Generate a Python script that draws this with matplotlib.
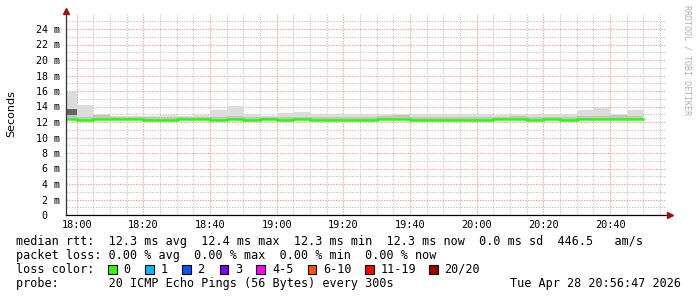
import matplotlib
matplotlib.use("Agg")
import matplotlib.pyplot as plt
from matplotlib.patches import Rectangle
import numpy as np

# ---------------- data ----------------
step_times = ["17:55", "18:00", "18:05", "18:10", "18:15", "18:20", "18:25", "18:30",
              "18:35", "18:40", "18:45", "18:50", "18:55", "19:00", "19:05", "19:10",
              "19:15", "19:20", "19:25", "19:30", "19:35", "19:40", "19:45", "19:50",
              "19:55", "20:00", "20:05", "20:10", "20:15", "20:20", "20:25", "20:30",
              "20:35", "20:40", "20:45"]
median_ms = [12.42, 12.30, 12.42, 12.42, 12.42, 12.30, 12.30, 12.42,
             12.42, 12.30, 12.42, 12.30, 12.42, 12.30, 12.42, 12.30,
             12.30, 12.30, 12.30, 12.42, 12.42, 12.30, 12.30, 12.30,
             12.30, 12.30, 12.42, 12.42, 12.30, 12.42, 12.30, 12.42,
             12.42, 12.42, 12.42]
smoke_max_ms = [15.9, 14.2, 13.0, 12.8, 12.8, 12.8, 12.9, 12.8,
                12.9, 13.6, 14.1, 13.0, 12.8, 13.2, 13.3, 13.0,
                13.0, 13.0, 13.0, 13.0, 13.05, 13.0, 13.0, 13.0,
                13.0, 13.0, 12.9, 13.0, 13.0, 13.0, 13.0, 13.5,
                13.8, 13.0, 13.5]
smoke_mid_ms = [12.9, 12.7, 12.85, 12.7, 12.65, 12.65, 12.7, 12.65,
                12.7, 12.7, 12.75, 12.7, 12.65, 12.7, 12.7, 12.7,
                12.7, 12.7, 12.7, 12.75, 12.9, 12.7, 12.7, 12.7,
                12.7, 12.7, 12.7, 12.75, 12.7, 12.7, 12.7, 12.75,
                12.75, 12.9, 12.8]
smoke_dark_lo = [12.9] + [np.nan] * 34
smoke_dark_hi = [13.7] + [np.nan] * 34
smoke_min_ms = [12.2] * 35
end_time = "20:50"
start_view = "17:56:47"
end_view = "20:56:47"

y_ticks_ms = list(range(0, 25, 2))
y_tick_labels = [f"{v} m" if v else "0  " for v in y_ticks_ms]
x_tick_labels = ["18:00", "18:20", "18:40", "19:00", "19:20", "19:40", "20:00", "20:20", "20:40"]

loss_labels = ["0", "1", "2", "3", "4-5", "6-10", "11-19", "20/20"]
loss_colors = ["#26ff00", "#00b8ff", "#0059ff", "#7e00ff", "#ff00ff", "#ff5500", "#ff0000", "#a00000"]

legend_rows = [
    "median rtt:  12.3 ms avg  12.4 ms max  12.3 ms min  12.3 ms now  0.0 ms sd  446.5   am/s",
    "packet loss: 0.00 % avg  0.00 % max  0.00 % min  0.00 % now",
    "loss color:",
    "probe:       20 ICMP Echo Pings (56 Bytes) every 300s",
]
date_text = "Tue Apr 28 20:56:47 2026"


def to_min(s):
    parts = [int(p) for p in s.split(":")]
    m = (parts[0] - 18) * 60 + parts[1]
    if len(parts) == 3:
        m += parts[2] / 60.0
    return m


# ---------------- figure ----------------
W, H = 697, 297
fig = plt.figure(figsize=(W / 100, H / 100), dpi=100)
fig.patch.set_facecolor("white")

px_left, px_right, px_bottom, px_top = 66, 666, 215, 13.5
ax = fig.add_axes([px_left / W, 1 - px_bottom / H, (px_right - px_left) / W, (px_bottom - px_top) / H])
ax.set_facecolor("white")

t = np.array([to_min(s) for s in step_times] + [to_min(end_time)])
widths = np.diff(t)


def ext(a):
    a = np.asarray(a, dtype=float)
    return np.append(a, a[-1])


ax.fill_between(t, ext(smoke_min_ms), ext(smoke_max_ms), step="post", color="#dcdcdc", lw=0, zorder=2)
ax.fill_between(t, ext(smoke_min_ms), ext(smoke_mid_ms), step="post", color="#c4c4c4", lw=0, zorder=3)
dlo = np.asarray(smoke_dark_lo, dtype=float)
dhi = np.asarray(smoke_dark_hi, dtype=float)
ax.bar(t[:-1], dhi - dlo, bottom=dlo, width=widths, align="edge", color="#666666", lw=0, zorder=4)
ax.step(t, ext(median_ms), where="post", color=loss_colors[0], lw=1.8, zorder=5, solid_joinstyle="miter")

ax.set_xlim(to_min(start_view), to_min(end_view))
ax.set_ylim(0, 26)

# grid
x_major = [to_min(s) for s in x_tick_labels]
x_minor = [m for m in np.arange(0, 180, 5) if m % 20 != 0 and m < to_min(end_view)]
y_minor = list(range(1, 26, 2))
for v in y_minor:
    ax.axhline(v, color="#c8c8c8", lw=0.8, ls=(0, (1.2, 1.2)), zorder=1)
for v in y_ticks_ms[1:]:
    ax.axhline(v, color="#f0a0a0", lw=0.8, ls=(0, (1.2, 1.2)), zorder=1)
for v in x_minor:
    ax.axvline(v, color="#c8c8c8", lw=0.8, ls=(0, (1.2, 1.2)), zorder=1)
for v in x_major:
    ax.axvline(v, color="#f0a0a0", lw=0.8, ls=(0, (1.2, 1.2)), zorder=1)

mono = "DejaVu Sans Mono"
ax.set_yticks(y_ticks_ms)
ax.set_yticklabels(y_tick_labels, fontfamily=mono, fontsize=7.2)
ax.set_xticks(x_major)
ax.set_xticklabels(x_tick_labels, fontfamily=mono, fontsize=7.4)
ax.tick_params(axis="y", length=0, pad=4.3)
ax.tick_params(axis="x", length=0, pad=3.6)
for s in ax.spines.values():
    s.set_visible(False)

# axes lines with arrows
top_ext = 1 + (px_top - 11) / (px_bottom - px_top)
right_ext = 1 + (670 - px_right) / (px_right - px_left)
ax.plot([0, 0], [0, top_ext], transform=ax.transAxes, color="#303030", lw=0.9, clip_on=False, zorder=6)
ax.plot([0, right_ext], [0, 0], transform=ax.transAxes, color="black", lw=0.9, clip_on=False, zorder=6)
ax.plot([0], [top_ext], marker="^", ms=4, color="#a01010", transform=ax.transAxes, clip_on=False, zorder=7)
ax.plot([right_ext], [0], marker=">", ms=4, color="#a01010", transform=ax.transAxes, clip_on=False, zorder=7)

fig.text(11 / W, 1 - 114 / H, "Seconds", rotation=90, ha="center", va="center", fontsize=8, fontfamily="DejaVu Sans")
fig.text(687 / W, 1 - 5 / H, "RRDTOOL / TOBI OETIKER", rotation=270, ha="center", va="top",
         fontsize=6.0, fontfamily=mono, color="#b0b0b0")

# legend
row_y = [241.7, 255.7, 269.3, 283.3]
for txt, yy in zip(legend_rows, row_y):
    fig.text(16 / W, 1 - yy / H, txt, ha="left", va="center", fontsize=8.5, fontfamily=mono)
fig.text(681 / W, 1 - row_y[3] / H, date_text, ha="right", va="center", fontsize=8.5, fontfamily=mono)

box_x = [108, 145, 182, 219.5, 256.4, 307.6, 365, 429]
for bx, lab, col in zip(box_x, loss_labels, loss_colors):
    fig.patches.append(Rectangle((bx / W, 1 - (row_y[2] + 4.5) / H), 8.5 / W, 9 / H,
                                 transform=fig.transFigure, facecolor=col, edgecolor="black", lw=0.8))
    fig.text((bx + 15.5) / W, 1 - row_y[2] / H, lab, ha="left", va="center", fontsize=8.5, fontfamily=mono)

fig.savefig("out.png", dpi=100, facecolor="white")
